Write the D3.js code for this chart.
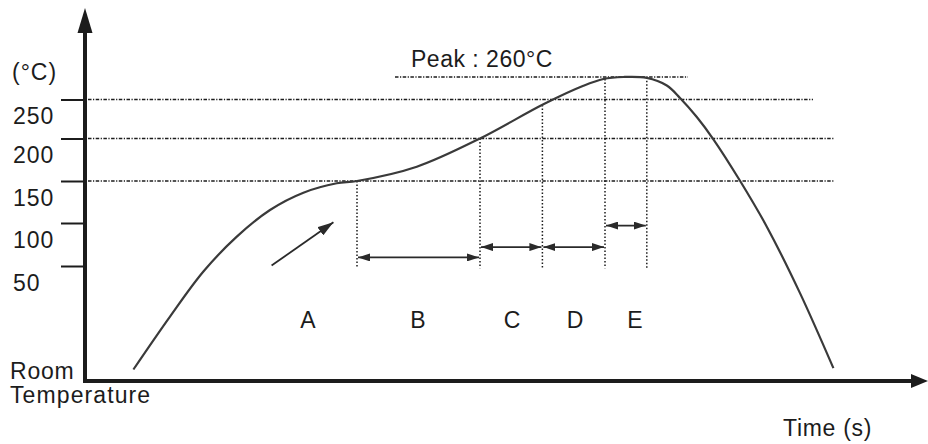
<!DOCTYPE html>
<html>
<head>
<meta charset="utf-8">
<script src="https://cdn.jsdelivr.net/npm/d3@7"></script>
<style>
  body { margin: 0; background: #fff; }
  svg { display: block; font-family: Arial, 'Liberation Sans', sans-serif; }
</style>
</head>
<body>
<div id="chart"></div>
<script>
// reflow profile (schematic)
var profileTime = [24.2, 42.5, 59.2, 75.9, 92.5, 109.2, 125.9, 136,
	165.9, 197.5, 229.2, 249.2, 259.2, 269.2, 280.9,
	290.9, 297.5, 305.9, 314.2, 327.5, 340.9, 357.5, 374.2];
var profileTemp = [27.5, 39, 48.8, 84.1, 115.5, 136.1, 147.3, 150,
	166.8, 200, 243.9, 256.1, 259.1, 260, 259.6,
	256.2, 250.7, 227.6, 199.1, 150.3, 95.7, 44.1, 27.8];

var tempTicks = [50, 100, 150, 200, 250];
var roomTemp = 25;
var peakTemp = 260;
var peakSpan = [155, 301.5];
var guideTemps = [150, 200, 250];
var guideEnds = [374.5, 374.5, 364];

// stage boundaries and the double arrows between them
var boundaryTime = [136, 197.5, 228.7, 260, 280.9];
var boundaryTop = [150, 200, 243, 259.1, 259.9];
var boundaryBottom = 49.5;
var zoneStart = [136, 197.5, 228.7, 260];
var zoneEnd = [197.5, 228.7, 260, 280.9];
var zoneArrowTemp = [60, 72, 72, 97];

var stageNames = ['A', 'B', 'C', 'D', 'E'];
var stageLabelTime = [111.5, 166.5, 213.5, 245, 275];
var stageLabelTemp = 36.5;

var rampFrom = [93.3, 50.5];
var rampTo = [124.2, 101];

(function(){
	var width = 928, height = 444;
	var ink = '#1c1c1c';

	var svg = d3.select('#chart').append('svg')
		.attr('width', width).attr('height', height);

	var x = d3.scaleLinear().domain([0, 414]).range([85, 913]);
	// the picture's temperature axis is only roughly even, so map every tick
	var y = d3.scaleLinear()
		.domain([roomTemp, 50, 100, 150, 200, 250, peakTemp])
		.range([381, 266, 223, 181, 138.5, 99.5, 77]);

	var defs = svg.append('defs');
	defs.append('marker').attr('id', 'head')
		.attr('viewBox', '0 0 12 8').attr('refX', 12).attr('refY', 4)
		.attr('markerWidth', 12).attr('markerHeight', 8)
		.attr('markerUnits', 'userSpaceOnUse').attr('orient', 'auto-start-reverse')
		.append('path').attr('d', 'M0,0L12,4L0,8Z').attr('fill', '#2a2a2a');
	defs.append('marker').attr('id', 'bighead')
		.attr('viewBox', '0 0 16 10').attr('refX', 16).attr('refY', 5)
		.attr('markerWidth', 16).attr('markerHeight', 10)
		.attr('markerUnits', 'userSpaceOnUse').attr('orient', 'auto')
		.append('path').attr('d', 'M0,0L16,5L0,10Z').attr('fill', '#2a2a2a');

	// horizontal guides
	svg.append('g').selectAll('line').data(guideTemps).enter()
		.append('line')
		.attr('x1', x(0) + 3).attr('x2', function(d, i) { return x(guideEnds[i]); })
		.attr('y1', function(d) { return y(d); }).attr('y2', function(d) { return y(d); })
		.attr('stroke', ink).attr('stroke-width', 1.5)
		.attr('stroke-dasharray', '3.5,1.5,1.2,1.5');
	svg.append('line')
		.attr('x1', x(peakSpan[0])).attr('x2', x(peakSpan[1]))
		.attr('y1', y(peakTemp)).attr('y2', y(peakTemp))
		.attr('stroke', ink).attr('stroke-width', 1.5)
		.attr('stroke-dasharray', '3.5,1.5,1.2,1.5');

	// stage boundaries
	svg.append('g').selectAll('line').data(boundaryTime).enter()
		.append('line')
		.attr('x1', function(d) { return x(d); }).attr('x2', function(d) { return x(d); })
		.attr('y1', function(d, i) { return y(boundaryTop[i]); })
		.attr('y2', y(boundaryBottom))
		.attr('stroke', ink).attr('stroke-width', 1.5)
		.attr('stroke-dasharray', '1.5,2');

	// zone arrows
	svg.append('g').selectAll('line').data(zoneStart).enter()
		.append('line')
		.attr('x1', function(d) { return x(d) + 1; })
		.attr('x2', function(d, i) { return x(zoneEnd[i]) - 1; })
		.attr('y1', function(d, i) { return y(zoneArrowTemp[i]); })
		.attr('y2', function(d, i) { return y(zoneArrowTemp[i]); })
		.attr('stroke', '#2a2a2a').attr('stroke-width', 1.6)
		.attr('marker-start', 'url(#head)').attr('marker-end', 'url(#head)');

	// ramp-up arrow
	svg.append('line')
		.attr('x1', x(rampFrom[0])).attr('y1', y(rampFrom[1]))
		.attr('x2', x(rampTo[0])).attr('y2', y(rampTo[1]))
		.attr('stroke', '#2a2a2a').attr('stroke-width', 1.8)
		.attr('marker-end', 'url(#bighead)');

	// profile curve
	var line = d3.line()
		.x(function(d, i) { return x(profileTime[i]); })
		.y(function(d) { return y(d); })
		.curve(d3.curveCatmullRom.alpha(0.5));
	svg.append('path').datum(profileTemp)
		.attr('d', line)
		.attr('fill', 'none').attr('stroke', '#3a3a3a').attr('stroke-width', 2.2);

	// temperature ticks, labels sit under the tick, left aligned
	var yAxis = svg.append('g')
		.attr('transform', 'translate(' + x(0) + ',0)')
		.call(d3.axisLeft(y).tickValues(tempTicks).tickSize(24).tickSizeOuter(0));
	yAxis.select('.domain').remove();
	yAxis.selectAll('.tick line').attr('stroke', ink).attr('stroke-width', 2);
	yAxis.selectAll('.tick text')
		.attr('x', 13 - x(0)).attr('dy', 24)
		.attr('text-anchor', 'start')
		.attr('font-size', 23).attr('letter-spacing', 1)
		.attr('font-family', 'Arial, Liberation Sans, sans-serif')
		.attr('fill', ink);

	// axes with arrowheads
	var x0 = x(0), yb = y(roomTemp);
	svg.append('line').attr('x1', x0).attr('x2', x0).attr('y1', yb + 2).attr('y2', 28)
		.attr('stroke', ink).attr('stroke-width', 4);
	svg.append('path').attr('d', 'M' + x0 + ',8L' + (x0 - 7.5) + ',33L' + (x0 + 7.5) + ',33Z').attr('fill', ink);
	svg.append('line').attr('x1', x0 - 2).attr('x2', 915).attr('y1', yb).attr('y2', yb)
		.attr('stroke', ink).attr('stroke-width', 4);
	svg.append('path').attr('d', 'M928,' + yb + 'L911,' + (yb - 7) + 'L911,' + (yb + 7) + 'Z').attr('fill', ink);

	// texts
	function txt(s, tx, ty, ls) {
		return svg.append('text').text(s).attr('x', tx).attr('y', ty)
			.attr('font-size', 23).attr('letter-spacing', ls)
			.attr('fill', ink);
	}
	txt('(\u00b0C)', 12, 80, 1);
	txt('Room', 10, 379, 0.8);
	txt('Temperature', 10, 403, 1.1);
	txt('Time (s)', 783, 436, 0.7);
	txt('Peak : 260\u00b0C', 411, 67, 0.5);

	svg.append('g').selectAll('text').data(stageNames).enter()
		.append('text').text(function(d) { return d; })
		.attr('x', function(d, i) { return x(stageLabelTime[i]); })
		.attr('y', y(stageLabelTemp))
		.attr('text-anchor', 'middle')
		.attr('font-size', 23).attr('fill', ink);
})();
</script>
</body>
</html>
